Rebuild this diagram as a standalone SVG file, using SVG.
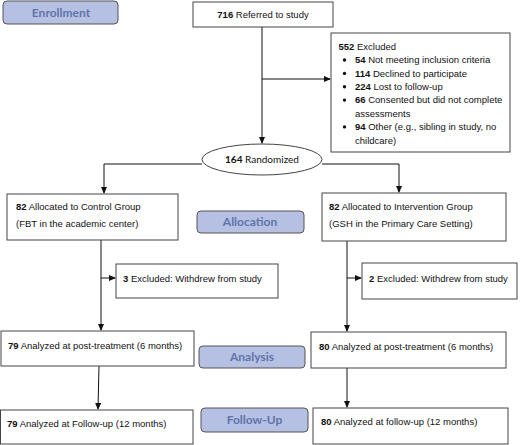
<svg xmlns="http://www.w3.org/2000/svg" width="520" height="445" viewBox="0 0 520 445">
<style>
.box{fill:#fff;stroke:#444;stroke-width:1}
.lbl{fill:#b5c0e2;stroke:#555;stroke-width:1}
.lt{font-family:Lato,"Liberation Sans",sans-serif;font-weight:bold;font-size:12px;fill:#6074aa;text-anchor:middle}
.t{font-family:"Liberation Sans",Arial,sans-serif;font-size:9.5px;fill:#111}
.b{font-weight:bold}
.c{fill:none;stroke:#111;stroke-width:1}
</style>
<defs>
<marker id="ah" markerWidth="7" markerHeight="6" refX="6" refY="3" orient="auto" markerUnits="userSpaceOnUse">
<path d="M0,0 L7,3 L0,6 Z" fill="#111"/>
</marker>
</defs>
<rect width="520" height="445" fill="#fff"/>
<g id="connectors">
<path class="c" d="M262,27 V143" marker-end="url(#ah)"/>
<path class="c" d="M262,79 H330" marker-end="url(#ah)"/>
<path class="c" d="M202,164 H104 V193" marker-end="url(#ah)"/>
<path class="c" d="M322,164 H399 V192" marker-end="url(#ah)"/>
<path class="c" d="M101,240 V330" marker-end="url(#ah)"/>
<path class="c" d="M101,278 H115" marker-end="url(#ah)"/>
<path class="c" d="M347,241 V331" marker-end="url(#ah)"/>
<path class="c" d="M347,278 H361" marker-end="url(#ah)"/>
<path class="c" d="M99,366 L98,409" marker-end="url(#ah)"/>
<path class="c" d="M347,368 V407" marker-end="url(#ah)"/>
</g>
<g id="enrollment-label">
<rect class="lbl" x="3" y="1" width="115" height="23" rx="4"/>
<text class="lt" x="61" y="17.3">Enrollment</text>
</g>
<g id="referred">
<rect class="box" x="193" y="2" width="140" height="25"/>
<text class="t" x="263" y="17.5" text-anchor="middle"><tspan class="b">716</tspan> Referred to study</text>
</g>
<g id="excluded">
<rect class="box" x="331" y="33" width="179" height="119"/>
<text class="t" x="338.5" y="50"><tspan class="b">552</tspan> Excluded</text>
<g fill="#111">
<circle cx="344.5" cy="60" r="1.7"/>
<circle cx="344.5" cy="73.4" r="1.7"/>
<circle cx="344.5" cy="86.7" r="1.7"/>
<circle cx="344.5" cy="100.1" r="1.7"/>
<circle cx="344.5" cy="126.9" r="1.7"/>
</g>
<text class="t" x="355" y="63.3"><tspan class="b">54</tspan> Not meeting inclusion criteria</text>
<text class="t" x="355" y="76.7"><tspan class="b">114</tspan> Declined to participate</text>
<text class="t" x="355" y="90"><tspan class="b">224</tspan> Lost to follow-up</text>
<text class="t" x="355" y="103.4"><tspan class="b">66</tspan> Consented but did not complete</text>
<text class="t" x="355" y="116.8">assessments</text>
<text class="t" x="355" y="130.2"><tspan class="b">94</tspan> Other (e.g., sibling in study, no</text>
<text class="t" x="355" y="143.6">childcare)</text>
</g>
<g id="randomized">
<ellipse cx="262" cy="159.5" rx="60" ry="15.5" fill="#fff" stroke="#444" stroke-width="1"/>
<text x="262" y="163" text-anchor="middle" font-family="Lato,'Liberation Sans',sans-serif" font-size="10" fill="#111"><tspan font-weight="bold">164</tspan> Randomized</text>
</g>
<g id="control">
<rect class="box" x="7" y="194" width="171" height="46"/>
<text class="t" x="16" y="210"><tspan class="b">82</tspan> Allocated to Control Group</text>
<text class="t" x="16" y="226.5">(FBT in the academic center)</text>
</g>
<g id="allocation-label">
<rect class="lbl" x="197" y="211" width="107" height="22" rx="4"/>
<text class="lt" x="250" y="226.3">Allocation</text>
</g>
<g id="intervention">
<rect class="box" x="322" y="193" width="184" height="48"/>
<text class="t" x="329" y="210"><tspan class="b">82</tspan> Allocated to Intervention Group</text>
<text class="t" x="329" y="226.5">(GSH in the Primary Care Setting)</text>
</g>
<g id="excluded-control">
<rect class="box" x="116" y="264" width="162" height="34"/>
<text class="t" x="123" y="281.5"><tspan class="b">3</tspan> Excluded: Withdrew from study</text>
</g>
<g id="excluded-intervention">
<rect class="box" x="362" y="263" width="155" height="36"/>
<text class="t" x="369" y="281.5"><tspan class="b">2</tspan> Excluded: Withdrew from study</text>
</g>
<g id="analysis-control">
<rect class="box" x="1" y="331" width="193" height="35"/>
<text class="t" x="8" y="348.5"><tspan class="b">79</tspan> Analyzed at post-treatment (6 months)</text>
</g>
<g id="analysis-label">
<rect class="lbl" x="199" y="346" width="106" height="22" rx="4"/>
<text class="lt" x="252" y="361.3">Analysis</text>
</g>
<g id="analysis-intervention">
<rect class="box" x="311" y="332" width="195" height="36"/>
<text class="t" x="319" y="349.5"><tspan class="b">80</tspan> Analyzed at post-treatment (6 months)</text>
</g>
<g id="followup-control">
<rect class="box" x="0.5" y="410" width="192.5" height="34"/>
<text class="t" x="7" y="426.5"><tspan class="b">79</tspan> Analyzed at Follow-up (12 months)</text>
</g>
<g id="followup-label">
<rect class="lbl" x="201" y="408" width="107" height="24" rx="4"/>
<text class="lt" x="254.5" y="424.3">Follow-Up</text>
</g>
<g id="followup-intervention">
<rect class="box" x="313" y="408" width="195" height="36"/>
<text class="t" x="321" y="424.5"><tspan class="b">80</tspan> Analyzed at follow-up (12 months)</text>
</g>
</svg>
